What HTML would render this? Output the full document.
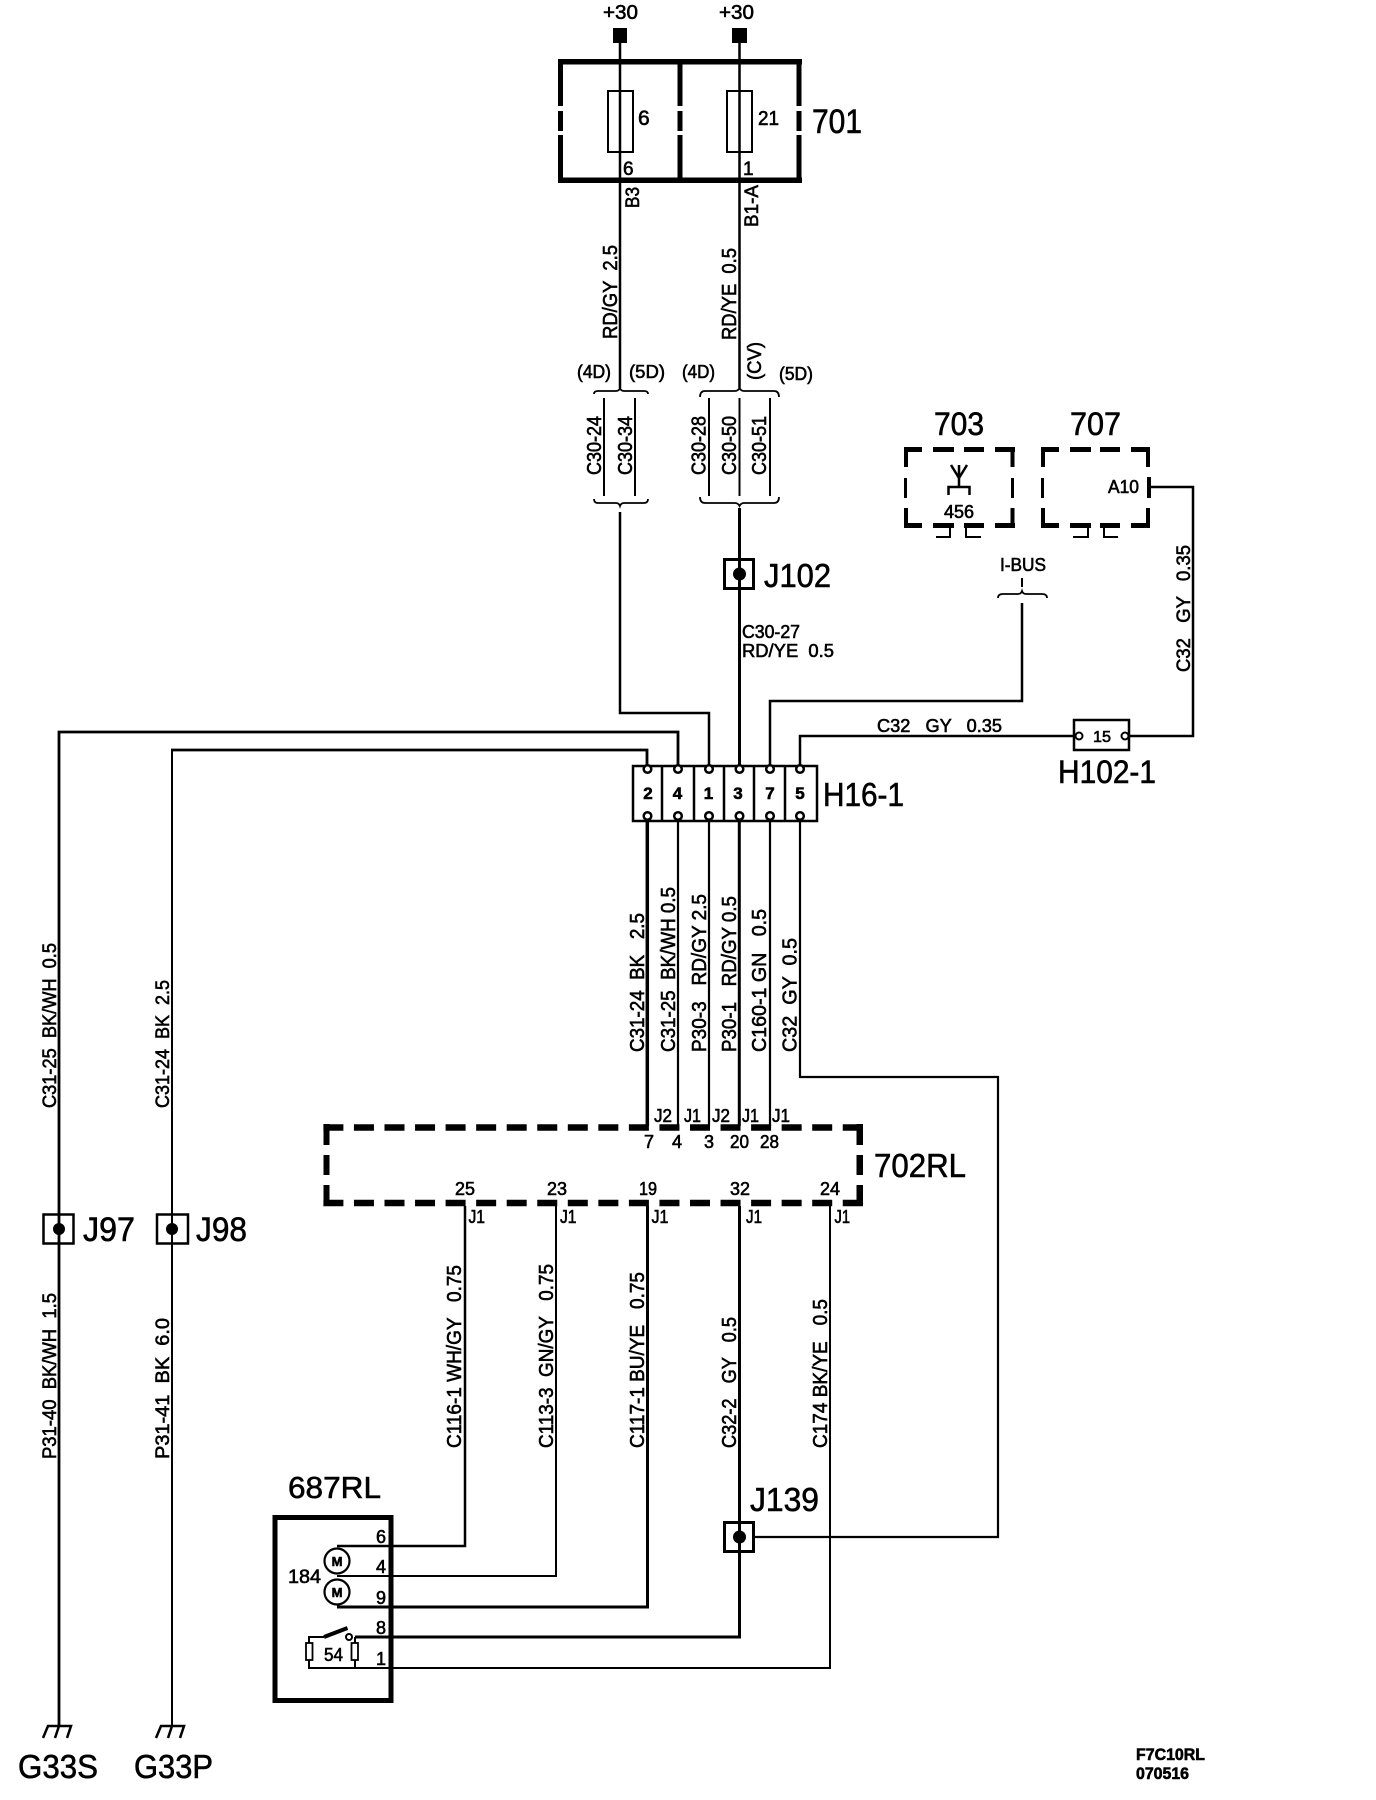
<!DOCTYPE html>
<html><head><meta charset="utf-8"><title>F7C10RL</title>
<style>
html,body{margin:0;padding:0;background:#fff}
svg{display:block}
text{font-family:"Liberation Sans",sans-serif;fill:#000;stroke:#000;stroke-width:.6;white-space:pre}
.w{fill:none;stroke:#000;stroke-width:2.500}
</style></head><body>
<svg xmlns="http://www.w3.org/2000/svg" width="1376" height="1800" viewBox="0 0 1376 1800">
<rect width="1376" height="1800" fill="#fff"/>

<!-- fuse box 701 -->
<rect x="613" y="28" width="14" height="15"/><rect x="732" y="28" width="15" height="15"/>
<path class="w" d="M620 43V388M739.500 43V388"/>
<g fill="#000">
<rect x="558" y="59" width="244" height="5.500"/><rect x="558" y="177.500" width="244" height="5.500"/>
<rect x="558" y="59" width="5" height="47"/><rect x="558" y="111" width="5" height="20"/><rect x="558" y="135" width="5" height="48"/>
<rect x="677.500" y="59" width="5" height="47"/><rect x="677.500" y="111" width="5" height="20"/><rect x="677.500" y="135" width="5" height="48"/>
<rect x="796.500" y="59" width="5" height="47"/><rect x="796.500" y="111" width="5" height="20"/><rect x="796.500" y="135" width="5" height="48"/>
</g>
<rect x="608" y="91" width="25" height="61" fill="none" stroke="#000" stroke-width="2"/>
<rect x="727" y="91" width="25" height="61" fill="none" stroke="#000" stroke-width="2"/>
<text x="603" y="19" font-size="20" textLength="35" lengthAdjust="spacingAndGlyphs">+30</text>
<text x="719" y="19" font-size="20" textLength="35" lengthAdjust="spacingAndGlyphs">+30</text>
<text x="638" y="125" font-size="21">6</text>
<text x="758" y="125" font-size="20" textLength="21" lengthAdjust="spacingAndGlyphs">21</text>
<text x="812" y="133" font-size="34" textLength="50" lengthAdjust="spacingAndGlyphs">701</text>
<text x="623" y="175" font-size="19">6</text>
<text x="743" y="175" font-size="19">1</text>
<text transform="translate(639,208) rotate(-90)" font-size="19" textLength="21" lengthAdjust="spacingAndGlyphs">B3</text>
<text transform="translate(758,227) rotate(-90)" font-size="19" textLength="42" lengthAdjust="spacingAndGlyphs">B1-A</text>
<text transform="translate(617,339) rotate(-90)" font-size="20" textLength="94" lengthAdjust="spacingAndGlyphs">RD/GY  2.5</text>
<text transform="translate(736,340) rotate(-90)" font-size="20" textLength="92" lengthAdjust="spacingAndGlyphs">RD/YE  0.5</text>
<text transform="translate(761,380) rotate(-90)" font-size="19" textLength="38" lengthAdjust="spacingAndGlyphs">(CV)</text>
<text x="577" y="378" font-size="18" textLength="34" lengthAdjust="spacingAndGlyphs">(4D)</text>
<text x="629" y="378" font-size="18" textLength="36" lengthAdjust="spacingAndGlyphs">(5D)</text>
<text x="682" y="378" font-size="18" textLength="33" lengthAdjust="spacingAndGlyphs">(4D)</text>
<text x="779" y="380" font-size="18" textLength="34" lengthAdjust="spacingAndGlyphs">(5D)</text>

<!-- braces -->
<g fill="none" stroke="#000" stroke-width="1.800">
<path d="M594 394Q594 391 598 391H616Q619 391 620 388Q621 391 624 391H644Q648 391 648 394"/>
<path d="M594 499Q594 503 598 503H616Q619 503 620 506Q621 503 624 503H644Q648 503 648 499"/>
<path d="M700 397Q700 391 705 391H735Q738 391 739.500 388Q741 391 744 391H774Q779 391 779 397"/>
<path d="M700 497Q700 503 705 503H735Q738 503 739.500 506Q741 503 744 503H774Q779 503 779 497"/>
<path d="M998 598Q998 594 1003 594H1018Q1021 594 1022 591Q1023 594 1026 594H1042Q1047 594 1047 598"/>
</g>
<path fill="none" stroke="#000" stroke-width="2" d="M604 398V496M635 398V496M709 398V496M739.500 398V496M770 398V496M1022 578V587"/>
<text transform="translate(601,475) rotate(-90)" font-size="20" textLength="59" lengthAdjust="spacingAndGlyphs">C30-24</text>
<text transform="translate(632,475) rotate(-90)" font-size="20" textLength="59" lengthAdjust="spacingAndGlyphs">C30-34</text>
<text transform="translate(705.500,475) rotate(-90)" font-size="20" textLength="59" lengthAdjust="spacingAndGlyphs">C30-28</text>
<text transform="translate(736,475) rotate(-90)" font-size="20" textLength="59" lengthAdjust="spacingAndGlyphs">C30-50</text>
<text transform="translate(766,475) rotate(-90)" font-size="20" textLength="59" lengthAdjust="spacingAndGlyphs">C30-51</text>

<!-- main wires above H16-1 -->
<path class="w" d="M620 512V713H709V765"/>
<path class="w" style="stroke-width:3" d="M739.500 508V765"/>
<path class="w" d="M1022 603V701H770V765"/>
<path class="w" style="stroke-width:2.800" d="M59 1726V732H678V765"/>
<path class="w" style="stroke-width:2" d="M172 1726V750"/>
<path class="w" style="stroke-width:2.800" d="M171 750H647V765"/>
<path class="w" d="M800 765V736H1073"/>
<path class="w" d="M1130 736H1193V487H1150"/>

<!-- J102 -->
<rect x="724.500" y="559.500" width="29" height="29" fill="#fff" stroke="#000" stroke-width="3"/>
<path d="M739.500 558V590" stroke="#000" stroke-width="3"/>
<circle cx="739.500" cy="574" r="6.500"/>
<text x="764" y="587" font-size="33" textLength="67" lengthAdjust="spacingAndGlyphs">J102</text>
<text x="742" y="638" font-size="18" textLength="58" lengthAdjust="spacingAndGlyphs">C30-27</text>
<text x="742" y="657" font-size="18" textLength="92" lengthAdjust="spacingAndGlyphs">RD/YE  0.5</text>

<!-- 703 / 707 -->
<text x="934" y="435" font-size="32" textLength="50" lengthAdjust="spacingAndGlyphs">703</text>
<text x="1070" y="435" font-size="32" textLength="51" lengthAdjust="spacingAndGlyphs">707</text>
<g fill="#000">
<rect x="904" y="447" width="18" height="5"/><rect x="933" y="447" width="21" height="5"/><rect x="964" y="447" width="20" height="5"/><rect x="995" y="447" width="20" height="5"/>
<rect x="904" y="523" width="18" height="5"/><rect x="933" y="523" width="21" height="5"/><rect x="964" y="523" width="20" height="5"/><rect x="995" y="523" width="20" height="5"/>
<rect x="904" y="447" width="4" height="20"/><rect x="904" y="478" width="3" height="20"/><rect x="904" y="508" width="4" height="20"/>
<rect x="1010.500" y="447" width="4" height="20"/><rect x="1011" y="478" width="3" height="20"/><rect x="1010.500" y="508" width="4" height="20"/>
<rect x="1041" y="447" width="18" height="5"/><rect x="1070" y="447" width="21" height="5"/><rect x="1100" y="447" width="20" height="5"/><rect x="1131" y="447" width="19" height="5"/>
<rect x="1041" y="523" width="18" height="5"/><rect x="1070" y="523" width="21" height="5"/><rect x="1100" y="523" width="20" height="5"/><rect x="1131" y="523" width="19" height="5"/>
<rect x="1041" y="447" width="4" height="20"/><rect x="1041" y="478" width="3" height="20"/><rect x="1041" y="508" width="4" height="20"/>
<rect x="1146" y="447" width="4" height="20"/><rect x="1147" y="477" width="4" height="21"/><rect x="1146" y="508" width="4" height="20"/>
</g>
<path fill="none" stroke="#000" stroke-width="2" d="M936 537H950V528M981 537H966V528M1073 537H1088V528M1118 537H1104V528"/>
<path fill="none" stroke="#000" stroke-width="2.500" d="M951 465L959 478L967 465M959 465V487M948.500 495V487H969.500V495"/>
<text x="944" y="518" font-size="18" textLength="30" lengthAdjust="spacingAndGlyphs">456</text>
<text x="1108" y="493" font-size="18" textLength="31" lengthAdjust="spacingAndGlyphs">A10</text>
<text x="1000" y="571" font-size="18" textLength="46" lengthAdjust="spacingAndGlyphs">I-BUS</text>
<text transform="translate(1190,672) rotate(-90)" font-size="19" textLength="127" lengthAdjust="spacingAndGlyphs">C32   GY   0.35</text>
<text x="877" y="732" font-size="18" textLength="125" lengthAdjust="spacingAndGlyphs">C32   GY   0.35</text>

<!-- H102-1 -->
<rect x="1074" y="720" width="55" height="30" fill="#fff" stroke="#000" stroke-width="2.500"/>
<circle cx="1079" cy="736" r="3.500" fill="#fff" stroke="#000" stroke-width="2"/>
<circle cx="1125" cy="736" r="3.500" fill="#fff" stroke="#000" stroke-width="2"/>
<text x="1093" y="742" font-size="16" textLength="18" lengthAdjust="spacingAndGlyphs">15</text>
<text x="1058" y="783" font-size="32" textLength="98" lengthAdjust="spacingAndGlyphs">H102-1</text>

<!-- H16-1 block -->
<path class="w" style="stroke-width:3.500" d="M647.300 821V1126"/>
<path class="w" style="stroke-width:2.200" d="M678 821V1126M709 821V1126M770 821V1126"/>
<path class="w" style="stroke-width:3" d="M739.300 821V1126"/>
<path class="w" style="stroke-width:2.200" d="M800 821V1077H998V1537H755"/>
<rect x="633" y="766" width="184" height="55" fill="#fff" stroke="#000" stroke-width="2.500"/>
<path fill="none" stroke="#000" stroke-width="2.500" d="M662 766V821M694 766V821M724 766V821M754 766V821M785 766V821"/>
<g fill="#fff" stroke="#000" stroke-width="2.500">
<circle cx="647.500" cy="769" r="3.800"/><circle cx="678" cy="769" r="3.800"/><circle cx="709" cy="769" r="3.800"/><circle cx="739.500" cy="769" r="3.800"/><circle cx="770" cy="769" r="3.800"/><circle cx="800" cy="769" r="3.800"/>
<circle cx="647.500" cy="816" r="3.800"/><circle cx="678" cy="816" r="3.800"/><circle cx="709" cy="816" r="3.800"/><circle cx="739.500" cy="816" r="3.800"/><circle cx="770" cy="816" r="3.800"/><circle cx="800" cy="816" r="3.800"/>
</g>
<g font-size="17" font-weight="bold" text-anchor="middle">
<text x="648" y="799">2</text><text x="677.500" y="799">4</text><text x="708.500" y="799">1</text><text x="738" y="799">3</text><text x="770" y="799">7</text><text x="800" y="799">5</text>
</g>
<text x="823" y="806" font-size="33" textLength="81" lengthAdjust="spacingAndGlyphs">H16-1</text>

<!-- vertical labels H16-1 to 702RL -->
<text transform="translate(644,1052) rotate(-90)" font-size="20" textLength="139" lengthAdjust="spacingAndGlyphs">C31-24  BK   2.5</text>
<text transform="translate(675,1052) rotate(-90)" font-size="20" textLength="165" lengthAdjust="spacingAndGlyphs">C31-25  BK/WH 0.5</text>
<text transform="translate(706,1052) rotate(-90)" font-size="20" textLength="158" lengthAdjust="spacingAndGlyphs">P30-3   RD/GY 2.5</text>
<text transform="translate(736,1052) rotate(-90)" font-size="20" textLength="156" lengthAdjust="spacingAndGlyphs">P30-1   RD/GY 0.5</text>
<text transform="translate(766,1052) rotate(-90)" font-size="20" textLength="143" lengthAdjust="spacingAndGlyphs">C160-1 GN   0.5</text>
<text transform="translate(796.700,1052) rotate(-90)" font-size="20" textLength="114" lengthAdjust="spacingAndGlyphs">C32  GY  0.5</text>

<!-- 702RL -->
<g fill="none" stroke="#000" stroke-width="6.500" stroke-dasharray="20 10.550">
<path d="M323.400 1127.500H863"/><path d="M323.400 1203H863"/>
</g>
<g fill="#000">
<rect x="323.500" y="1124" width="6" height="21"/><rect x="323.500" y="1155" width="6" height="20"/><rect x="323.500" y="1185" width="6" height="21"/>
<rect x="856.500" y="1124" width="6.500" height="21"/><rect x="856.500" y="1155" width="6.500" height="20"/><rect x="856.500" y="1185" width="6.500" height="21"/>
</g>
<g font-size="18">
<text x="644" y="1148">7</text><text x="672" y="1148">4</text><text x="704" y="1148">3</text>
<text x="730" y="1148" textLength="19" lengthAdjust="spacingAndGlyphs">20</text><text x="760" y="1148" textLength="19" lengthAdjust="spacingAndGlyphs">28</text>
<text x="654" y="1122" textLength="18" lengthAdjust="spacingAndGlyphs">J2</text><text x="684" y="1122" textLength="17" lengthAdjust="spacingAndGlyphs">J1</text><text x="712" y="1122" textLength="18" lengthAdjust="spacingAndGlyphs">J2</text><text x="742" y="1122" textLength="17" lengthAdjust="spacingAndGlyphs">J1</text><text x="772" y="1122" textLength="18" lengthAdjust="spacingAndGlyphs">J1</text>
<text x="455" y="1195" textLength="20" lengthAdjust="spacingAndGlyphs">25</text><text x="547" y="1195" textLength="20" lengthAdjust="spacingAndGlyphs">23</text><text x="639" y="1195" textLength="18" lengthAdjust="spacingAndGlyphs">19</text><text x="730" y="1195" textLength="20" lengthAdjust="spacingAndGlyphs">32</text><text x="820" y="1195" textLength="20" lengthAdjust="spacingAndGlyphs">24</text>
<text x="468.500" y="1223" textLength="16.500" lengthAdjust="spacingAndGlyphs">J1</text><text x="560" y="1223" textLength="16.500" lengthAdjust="spacingAndGlyphs">J1</text><text x="651.500" y="1223" textLength="17" lengthAdjust="spacingAndGlyphs">J1</text><text x="746" y="1223" textLength="16" lengthAdjust="spacingAndGlyphs">J1</text><text x="834.500" y="1223" textLength="15.500" lengthAdjust="spacingAndGlyphs">J1</text>
</g>
<text x="874" y="1177" font-size="33" textLength="92" lengthAdjust="spacingAndGlyphs">702RL</text>

<!-- wires below 702RL -->
<path class="w" d="M465 1206V1546H337"/>
<path class="w" style="stroke-width:2" d="M556 1206V1576H337"/>
<path class="w" style="stroke-width:3" d="M647.500 1206V1607H337"/>
<path class="w" style="stroke-width:3" d="M739.500 1206V1637H355"/>
<path class="w" style="stroke-width:2" d="M830 1206V1668H308"/>
<text transform="translate(461,1448) rotate(-90)" font-size="20" textLength="183" lengthAdjust="spacingAndGlyphs">C116-1 WH/GY   0.75</text>
<text transform="translate(553,1448) rotate(-90)" font-size="20" textLength="184" lengthAdjust="spacingAndGlyphs">C113-3  GN/GY   0.75</text>
<text transform="translate(644,1448) rotate(-90)" font-size="20" textLength="176" lengthAdjust="spacingAndGlyphs">C117-1 BU/YE   0.75</text>
<text transform="translate(736,1448) rotate(-90)" font-size="20" textLength="131" lengthAdjust="spacingAndGlyphs">C32-2   GY   0.5</text>
<text transform="translate(827,1448) rotate(-90)" font-size="20" textLength="149" lengthAdjust="spacingAndGlyphs">C174 BK/YE   0.5</text>

<!-- J139 -->
<rect x="724.500" y="1522.500" width="29" height="29" fill="none" stroke="#000" stroke-width="3"/>
<circle cx="739.500" cy="1537" r="6.500"/>
<text x="750" y="1511" font-size="33" textLength="69" lengthAdjust="spacingAndGlyphs">J139</text>

<!-- 687RL -->
<text x="288" y="1498" font-size="31" textLength="93" lengthAdjust="spacingAndGlyphs">687RL</text>
<rect x="275" y="1517.500" width="116" height="183" fill="none" stroke="#000" stroke-width="5"/>
<g font-size="18">
<text x="376" y="1543">6</text><text x="376" y="1573">4</text><text x="376" y="1604">9</text><text x="376" y="1634">8</text><text x="376" y="1665">1</text>
<text x="324" y="1661" textLength="19" lengthAdjust="spacingAndGlyphs">54</text>
<text x="288" y="1583" font-size="19" textLength="33" lengthAdjust="spacingAndGlyphs">184</text>
</g>
<g fill="#fff" stroke="#000" stroke-width="2.200">
<circle cx="337" cy="1561" r="12.500"/><circle cx="337" cy="1592" r="12.500"/>
</g>
<g font-size="13" font-weight="bold" text-anchor="middle"><text x="337" y="1566">M</text><text x="337" y="1597">M</text></g>
<path fill="none" stroke="#000" stroke-width="2" d="M309 1668V1637H324M355 1668V1637"/>
<path stroke="#000" stroke-width="4" d="M324 1637L347.500 1628"/>
<circle cx="349" cy="1637" r="3" fill="#fff" stroke="#000" stroke-width="2"/>
<rect x="306" y="1643" width="6.500" height="17" fill="#fff" stroke="#000" stroke-width="1.800"/>
<rect x="351.500" y="1643" width="6.500" height="17" fill="#fff" stroke="#000" stroke-width="1.800"/>

<!-- J97 J98 and grounds -->
<rect x="43.500" y="1214.500" width="30" height="29" fill="none" stroke="#000" stroke-width="2.500"/>
<circle cx="59" cy="1229" r="6"/>
<rect x="157" y="1214.500" width="31" height="29" fill="none" stroke="#000" stroke-width="2.500"/>
<circle cx="172" cy="1229" r="6"/>
<text x="83" y="1241" font-size="34" textLength="52" lengthAdjust="spacingAndGlyphs">J97</text>
<text x="196" y="1241" font-size="34" textLength="51" lengthAdjust="spacingAndGlyphs">J98</text>
<text transform="translate(56,1108) rotate(-90)" font-size="19.500" textLength="165" lengthAdjust="spacingAndGlyphs">C31-25  BK/WH  0.5</text>
<text transform="translate(169,1108) rotate(-90)" font-size="19.500" textLength="128" lengthAdjust="spacingAndGlyphs">C31-24  BK  2.5</text>
<text transform="translate(56,1459) rotate(-90)" font-size="19.500" textLength="166" lengthAdjust="spacingAndGlyphs">P31-40  BK/WH  1.5</text>
<text transform="translate(169,1459) rotate(-90)" font-size="19.500" textLength="141" lengthAdjust="spacingAndGlyphs">P31-41  BK  6.0</text>
<path fill="none" stroke="#000" stroke-width="2.500" d="M43 1738L48 1726H71L67 1738M55 1738L59 1726M156 1738L161 1726H184L180 1738M168 1738L172 1726"/>
<text x="18" y="1778" font-size="33" textLength="80" lengthAdjust="spacingAndGlyphs">G33S</text>
<text x="134" y="1778" font-size="33" textLength="79" lengthAdjust="spacingAndGlyphs">G33P</text>

<text x="1136" y="1760" font-size="17" font-weight="bold" textLength="69" lengthAdjust="spacingAndGlyphs">F7C10RL</text>
<text x="1136" y="1779" font-size="17" font-weight="bold" textLength="53" lengthAdjust="spacingAndGlyphs">070516</text>
</svg>
</body></html>
